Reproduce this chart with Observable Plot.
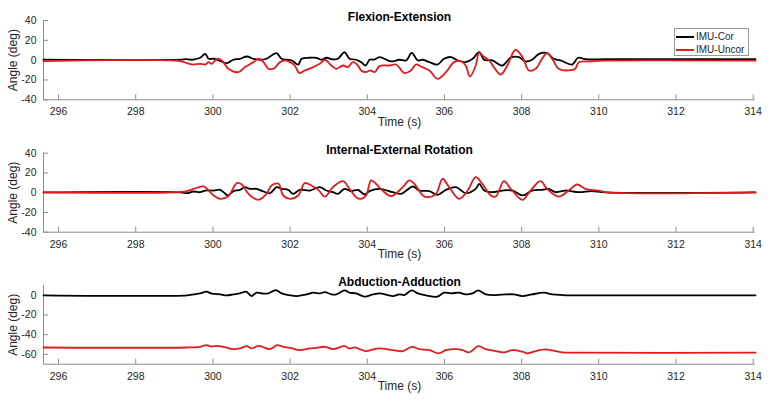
<!DOCTYPE html>
<html><head><meta charset="utf-8">
<script src="https://cdn.jsdelivr.net/npm/d3@7"></script>
<script src="https://cdn.jsdelivr.net/npm/@observablehq/plot@0.6"></script>
<style>
html,body{margin:0;padding:0;background:#fff;}
#wrap{position:relative;width:771px;height:405px;overflow:hidden;background:#fff;}
#wrap svg{display:block;}
.legend{position:absolute;left:674px;top:28px;width:73px;height:26px;border:1px solid #9a9a9a;background:#fff;font-family:"Liberation Sans",Arial,sans-serif;font-size:10px;color:#262626;}
.legend .row{position:absolute;left:0;height:12px;width:73px;}
.legend .sw{position:absolute;left:1px;top:5px;width:18px;height:0;border-top:2px solid #000;}
.legend .lb{position:absolute;left:21px;top:0;line-height:12px;white-space:nowrap;}
</style>
</head><body>
<div id="wrap"></div>
<script>
const xTicks = [296, 298, 300, 302, 304, 306, 308, 310, 312, 314];
const xDomain = [295.61, 314.06];
const yTicksAngle = [-40, -20, 0, 20, 40];
const yTicksAbd = [-60, -40, -20, 0];
const titles = ["Flexion-Extension", "Internal-External Rotation", "Abduction-Adduction"];
const seriesNames = ["IMU-Cor", "IMU-Uncor"];
const xLabel = "Time (s)";
const yLabel = "Angle (deg)";

// Flexion-Extension
const feCor = [[295.61,0.5],[299.16,0.5],[299.29,1.0],[299.46,0.4],[299.67,2.4],[299.80,6.4],[299.89,1.4],[300.02,1.4],[300.15,-0.3],[300.36,-3.0],[300.53,0.4],[300.70,1.4],[300.88,3.7],[301.05,1.4],[301.22,0.4],[301.39,1.4],[301.52,4.7],[301.65,7.1],[301.78,1.4],[301.91,0.4],[302.04,-0.3],[302.21,-4.4],[302.30,1.4],[302.51,2.4],[302.68,2.4],[302.81,0.4],[302.94,2.4],[303.11,0.7],[303.24,1.4],[303.41,8.1],[303.54,1.4],[303.71,0.4],[303.84,-2.0],[303.96,-5.4],[304.06,0.4],[304.18,0.6],[304.32,3.1],[304.62,-1.3],[304.83,0.4],[305.01,-0.3],[305.15,7.4],[305.31,-0.3],[305.44,0.4],[305.61,-2.0],[305.82,-4.4],[305.99,1.4],[306.17,3.1],[306.34,-0.3],[306.55,-2.0],[306.73,1.4],[306.90,8.1],[307.03,0.4],[307.24,-0.3],[307.50,-5.4],[307.71,2.4],[307.93,3.1],[308.10,-1.3],[308.27,0.4],[308.45,6.4],[308.66,7.1],[308.83,1.4],[309.01,-0.3],[309.31,-4.4],[309.46,2.4],[309.65,1.0],[310.20,1.0],[314.06,1.0]];
const feUncor = [[295.61,-1.0],[299.16,-1.0],[299.33,-3.0],[299.46,-4.4],[299.67,-3.7],[299.80,-4.4],[299.89,-2.0],[299.97,-3.7],[300.10,1.4],[300.23,-0.3],[300.40,-8.7],[300.66,-12.1],[300.83,-7.0],[301.05,-2.0],[301.18,1.4],[301.31,-2.0],[301.44,-8.7],[301.57,-8.7],[301.74,-2.0],[301.87,-0.3],[302.00,-2.0],[302.12,-5.4],[302.24,-13.1],[302.38,-10.4],[302.60,-7.0],[302.77,-3.7],[302.90,0.4],[303.07,-5.4],[303.20,-8.7],[303.37,-5.4],[303.50,-7.0],[303.63,-2.0],[303.76,-5.4],[303.84,-10.4],[303.96,-12.1],[304.08,-10.4],[304.19,-12.1],[304.32,-6.0],[304.58,-5.4],[304.75,-4.4],[304.96,-13.1],[305.13,-10.4],[305.26,-4.4],[305.39,-6.4],[305.61,-10.4],[305.82,-18.8],[306.04,-12.1],[306.25,-2.0],[306.42,-1.0],[306.55,-5.4],[306.66,-16.5],[306.81,-5.4],[306.90,7.4],[307.03,3.1],[307.16,-0.3],[307.28,-7.0],[307.46,-14.5],[307.63,-5.4],[307.84,10.5],[308.02,3.1],[308.19,-10.4],[308.36,-8.7],[308.53,1.4],[308.66,7.1],[308.79,1.4],[308.96,-8.7],[309.22,-10.4],[309.39,-8.7],[309.48,-2.0],[309.74,-1.3],[310.17,-0.5],[314.06,-0.5]];

// Internal-External Rotation
const ieCor = [[295.61,0.3],[299.16,0.3],[299.33,-0.5],[299.50,1.2],[299.67,0.5],[299.80,2.2],[300.02,2.2],[300.19,2.9],[300.39,-2.8],[300.53,1.6],[300.70,2.9],[300.83,5.6],[300.96,3.9],[301.13,3.9],[301.31,1.2],[301.48,-0.5],[301.65,5.6],[301.78,3.9],[301.95,2.9],[302.08,-1.1],[302.25,2.9],[302.51,2.2],[302.77,5.6],[302.94,2.2],[303.11,0.5],[303.24,-1.1],[303.41,3.9],[303.58,1.6],[303.76,2.9],[303.93,-1.8],[304.06,1.6],[304.32,3.9],[304.66,0.5],[304.88,-1.1],[305.18,6.3],[305.35,2.2],[305.61,1.6],[305.82,-2.2],[306.04,2.9],[306.30,5.6],[306.55,-0.5],[306.81,3.9],[306.90,9.0],[307.03,2.2],[307.24,0.5],[307.50,2.2],[307.76,2.2],[308.03,-2.8],[308.27,2.2],[308.53,2.9],[308.70,3.9],[308.88,0.5],[309.13,2.2],[309.48,0.5],[309.82,1.6],[310.17,0.3],[314.06,0.3]];
const ieUncor = [[295.61,0.3],[298.98,0.3],[299.33,1.6],[299.50,3.9],[299.76,6.3],[299.89,2.2],[300.02,-2.8],[300.19,-6.2],[300.39,-3.9],[300.62,9.7],[300.75,8.3],[300.92,-1.1],[301.18,-7.2],[301.39,-1.1],[301.52,7.3],[301.70,9.0],[301.82,-2.8],[302.00,-6.2],[302.21,-2.8],[302.38,9.7],[302.55,7.3],[302.73,2.9],[302.90,-3.9],[303.11,5.6],[303.37,11.7],[303.54,3.9],[303.71,-4.5],[303.84,-6.2],[303.97,-2.8],[304.10,12.4],[304.25,8.0],[304.40,2.0],[304.62,-3.5],[304.92,5.6],[305.09,12.4],[305.22,9.0],[305.44,-2.8],[305.56,-4.5],[305.78,-1.1],[305.95,14.1],[306.12,5.6],[306.38,-6.2],[306.60,2.2],[306.81,15.7],[306.98,9.0],[307.20,-2.8],[307.33,-3.9],[307.54,11.7],[307.72,3.9],[308.02,-7.2],[308.23,2.2],[308.49,11.7],[308.66,3.9],[308.96,-3.9],[309.22,2.2],[309.44,8.3],[309.65,3.9],[309.99,2.2],[310.25,0.3],[314.06,0.3]];

// Abduction-Adduction
const aaCor = [[295.61,0],[299.33,0],[299.50,1.0],[299.67,2.0],[299.83,3.7],[299.97,1.7],[300.19,1.0],[300.36,0],[300.53,1.0],[300.70,2.0],[300.86,3.7],[301.00,-0.7],[301.13,2.7],[301.31,1.7],[301.44,2.0],[301.63,5.3],[301.78,2.0],[302.00,0],[302.17,-0.7],[302.43,1.0],[302.60,2.7],[302.77,2.0],[302.90,3.3],[303.07,1.0],[303.20,1.0],[303.41,5.0],[303.54,2.7],[303.71,2.0],[303.93,-1.3],[304.15,1.0],[304.32,2.0],[304.66,-0.7],[304.83,1.0],[304.96,0.3],[305.15,5.0],[305.31,2.0],[305.52,0],[305.82,-1.3],[305.99,2.7],[306.17,2.0],[306.38,2.7],[306.55,1.0],[306.73,2.0],[306.87,5.0],[307.07,1.0],[307.33,0.3],[307.59,1.0],[307.80,1.0],[308.02,-0.7],[308.27,1.0],[308.58,2.7],[308.79,1.0],[309.05,0.3],[309.31,0],[314.06,0]];
const aaUncor = [[295.61,-53.0],[299.33,-53.0],[299.67,-52.3],[299.83,-50.7],[299.97,-52.0],[300.10,-51.3],[300.27,-52.3],[300.53,-54.7],[300.70,-54.0],[300.88,-51.7],[301.00,-54.0],[301.18,-51.3],[301.35,-53.3],[301.48,-54.7],[301.67,-50.7],[301.82,-52.3],[302.00,-53.3],[302.25,-55.7],[302.51,-54.0],[302.68,-53.3],[302.90,-52.3],[303.11,-54.7],[303.41,-51.7],[303.54,-54.0],[303.67,-53.0],[303.97,-56.7],[304.15,-55.0],[304.32,-54.0],[304.66,-55.7],[304.92,-56.7],[305.15,-52.3],[305.35,-54.7],[305.61,-55.7],[305.85,-59.0],[306.04,-55.7],[306.30,-54.7],[306.47,-55.7],[306.64,-58.0],[306.88,-51.7],[307.07,-54.7],[307.33,-56.7],[307.54,-58.0],[307.76,-55.7],[308.02,-57.3],[308.15,-59.0],[308.36,-56.7],[308.62,-55.0],[308.79,-56.0],[309.05,-58.0],[309.48,-58.3],[314.06,-58.3]];

const FONT = '"Liberation Sans", Arial, Helvetica, sans-serif';
const AXIS = "#8c8c8c";
const TEXT = "#262626";
const COR = "#000000";
const UNCOR = "#e41a1c";

function panel({title, cor, uncor, yDomain, yTicks, marginTop, marginBottom}) {
  return Plot.plot({
    width: 771, height: 135,
    marginLeft: 43, marginRight: 16, marginTop, marginBottom,
    style: {fontFamily: FONT, fontSize: "10.5px", color: TEXT, background: "transparent", overflow: "visible"},
    x: {domain: xDomain},
    y: {domain: yDomain},
    marks: [
      Plot.ruleX([xDomain[0]], {stroke: AXIS, strokeWidth: 1}),
      Plot.ruleY([yDomain[0]], {stroke: AXIS, strokeWidth: 1}),
      Plot.axisX(xTicks, {tickSize: -5, tickPadding: 13, stroke: AXIS, fill: TEXT, tickFormat: d => String(d), label: null}),
      Plot.axisY(yTicks, {tickSize: -5, tickPadding: 12, stroke: AXIS, fill: TEXT, tickFormat: d => String(d), label: null}),
      Plot.line(cor, {x: d => d[0], y: d => d[1], stroke: COR, strokeWidth: 1.8, curve: "catmull-rom"}),
      Plot.line(uncor, {x: d => d[0], y: d => d[1], stroke: UNCOR, strokeWidth: 1.8, curve: "catmull-rom"}),
      Plot.text([title], {text: d => d, frameAnchor: "top", dy: -8, fontSize: 12, fontWeight: "bold", fill: "#000"}),
      Plot.text([xLabel], {text: d => d, frameAnchor: "bottom", dy: 26, fontSize: 12, fill: TEXT}),
      Plot.text([yLabel], {text: d => d, frameAnchor: "left", textAnchor: "middle", dx: -30, rotate: -90, fontSize: 12, fill: TEXT})
    ]
  });
}

const wrap = document.getElementById("wrap");
wrap.append(panel({title: titles[0], cor: feCor, uncor: feUncor, yDomain: [-40, 40], yTicks: yTicksAngle, marginTop: 20, marginBottom: 35.7}));
wrap.append(panel({title: titles[1], cor: ieCor, uncor: ieUncor, yDomain: [-40, 40], yTicks: yTicksAngle, marginTop: 17.7, marginBottom: 38.3}));
wrap.append(panel({title: titles[2], cor: aaCor, uncor: aaUncor, yDomain: [-70, 10], yTicks: yTicksAbd, marginTop: 15, marginBottom: 41.3}));

const legend = document.createElement("div");
legend.className = "legend";
[COR, UNCOR].forEach((c, i) => {
  const row = document.createElement("div");
  row.className = "row";
  row.style.top = (2 + i * 12.5) + "px";
  const sw = document.createElement("span");
  sw.className = "sw";
  sw.style.borderTopColor = c;
  const lb = document.createElement("span");
  lb.className = "lb";
  lb.textContent = seriesNames[i];
  row.append(sw, lb);
  legend.append(row);
});
wrap.append(legend);
</script>
</body></html>
